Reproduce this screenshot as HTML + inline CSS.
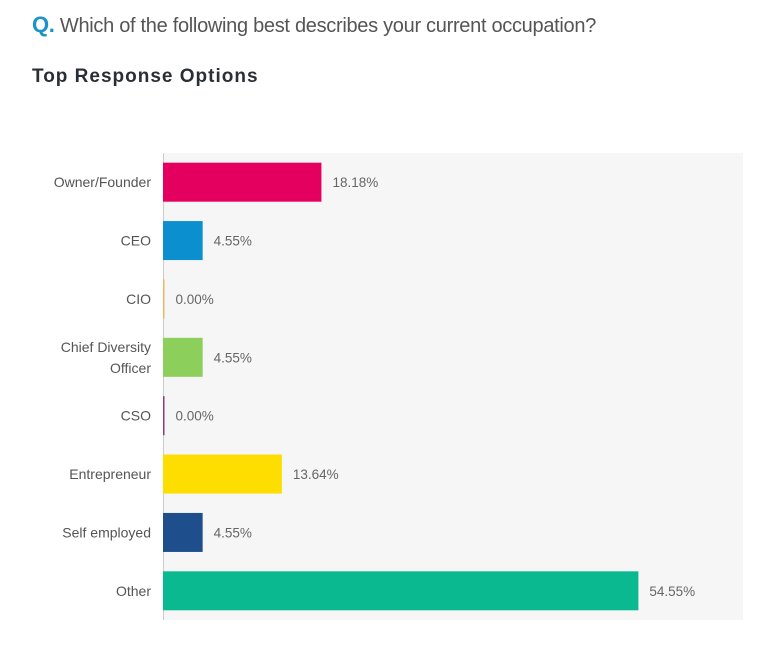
<!DOCTYPE html>
<html><head><meta charset="utf-8"><style>
body{margin:0;background:#fff;width:768px;height:647px;overflow:hidden;font-family:"Liberation Sans",sans-serif}
#q{position:absolute;left:32px;top:12px;font-size:20px;color:#555;letter-spacing:-0.3px}
#q b{color:#1a93c8;font-size:22px}
#t{position:absolute;left:32px;top:66px;font-size:19px;font-weight:bold;color:#2a2f36;letter-spacing:1px}
</style></head><body>
<div id="q"><b>Q.</b> Which of the following best describes your current occupation?</div>
<div id="t">Top Response Options</div>
<svg id="chart" width="768" height="647" style="position:absolute;left:0;top:0"></svg>
<script>
const categories=["Owner/Founder","CEO","CIO","Chief Diversity|Officer","CSO","Entrepreneur","Self employed","Other"];
const values=[18.18,4.55,0,4.55,0,13.64,4.55,54.55];
const labels=["18.18%","4.55%","0.00%","4.55%","0.00%","13.64%","4.55%","54.55%"];
const colors=["#e4005f","#0b8fcf","#e8b86a","#8ccf5a","#8a3a7a","#fedd00","#1f4e8c","#0ab98f"];
const NS="http://www.w3.org/2000/svg";
const svg=document.getElementById('chart');
const L=163,R=743,T=153,B=620;
const x=v=>L+v*8.715;
const band=(B-T)/categories.length;
const y=i=>T+i*band;
function mk(t,a){const e=document.createElementNS(NS,t);for(const k in a)e.setAttribute(k,a[k]);svg.appendChild(e);return e;}
const bg=mk('rect',{x:L,y:T,width:R-L,height:B-T,fill:'#f6f6f6'});


const ax=mk('line',{x1:L+0.5,x2:L+0.5,y1:T,y2:B,stroke:'#ccc'});


categories.forEach((c,i)=>{
  const cy=y(i)+band/2;
  const w=Math.max(x(values[i])-x(0),1.5);
  const r=mk('rect',{x:L,y:cy-19.5,width:w,height:39,fill:colors[i]});
  
  
  const vt=mk('text',{x:L+w+11,y:cy+5,'font-size':13.5,fill:'#666'});
  vt.textContent=labels[i];
  
  
  const parts=c.split('|');
  const tt=mk('text',{x:L-12,y:cy+5-(parts.length-1)*10.5,'font-size':14,fill:'#555','text-anchor':'end'});
  
  
  parts.forEach((p,j)=>{const s=document.createElementNS(NS,'tspan');s.setAttribute('x',L-12);if(j)s.setAttribute('dy',21);s.textContent=p;tt.appendChild(s);});
});
</script>
</body></html>
